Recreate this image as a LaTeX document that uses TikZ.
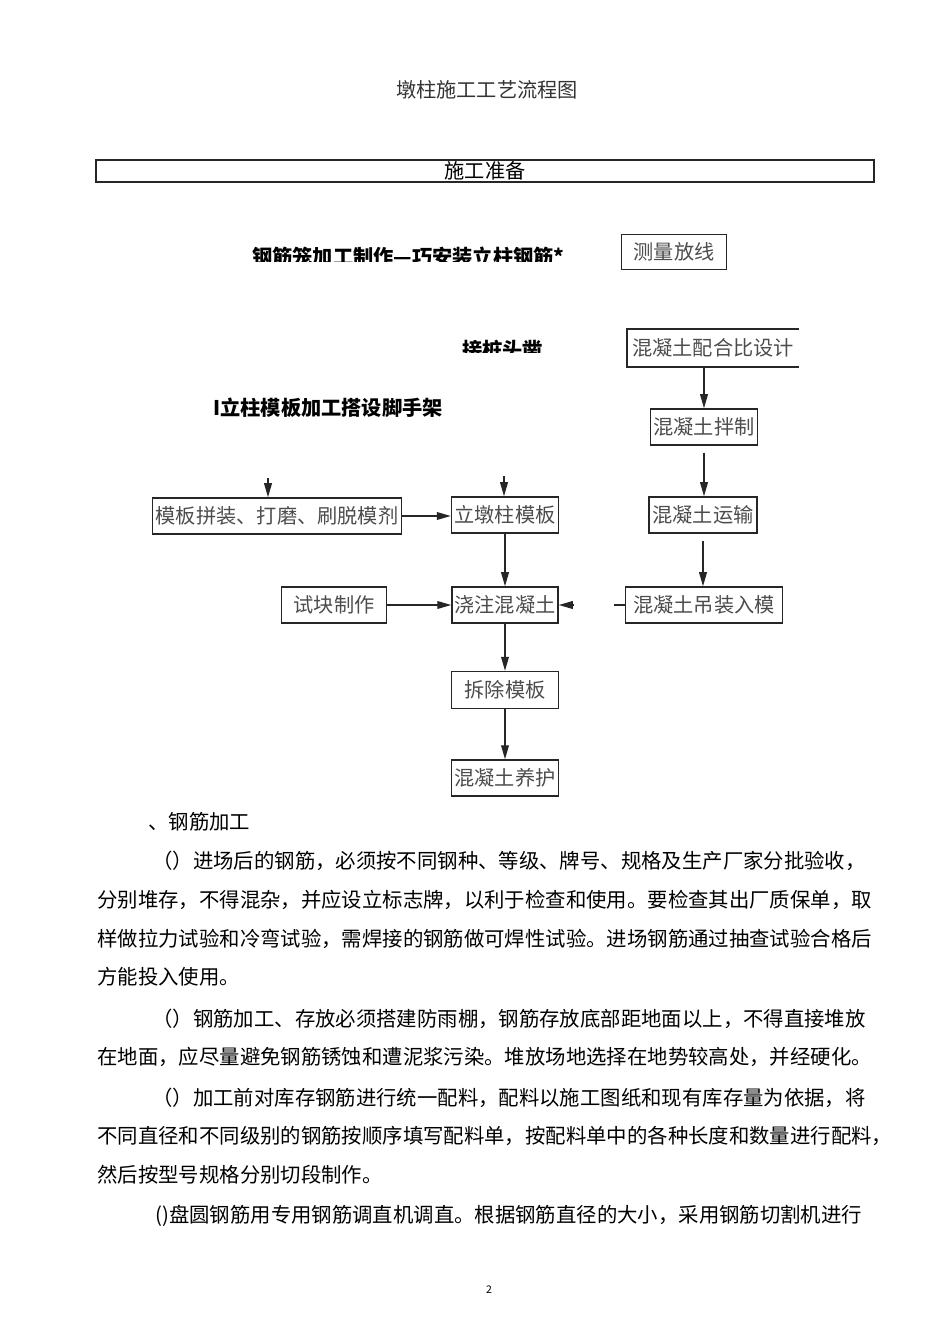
\documentclass[tikz,border=0pt]{standalone}
\usepackage{fontspec}
\setmainfont{Noto Sans CJK SC}
\usetikzlibrary{arrows.meta,positioning}

\newcommand\boxfont{\fontsize{11.5pt}{13pt}\selectfont}
\newcommand\bodyfont{\fontsize{11.6pt}{14pt}\selectfont}

\begin{document}
\begin{tikzpicture}[
  x=0.02cm, y=-0.02cm,
  box/.style={draw=black!85, line width=0.8pt, inner sep=0pt, minimum height=0.72cm,
              font=\boxfont, text=black!70},
  hei/.style={font=\boxfont\bfseries, inner sep=0pt},
  txt/.style={anchor=west, inner sep=0pt, font=\bodyfont},
  arr/.style={-{Triangle[length=8pt,width=4.4pt]}, line width=0.8pt, black!85}
]
\useasboundingbox (0,0) rectangle (950,1344);

\node[font=\boxfont, text=black!80] (title) at (487,90) {墩柱施工工艺流程图};
\node[draw=black!85, line width=0.8pt, minimum width=15.56cm, minimum height=0.44cm,
  inner sep=0pt, font=\boxfont] (prep) at (485,171) {施工准备};

% labels cut off at the bottom
\begin{scope}
  \clip (240,240) rectangle (580,262);
  \node[hei, anchor=west] (cage) at (252,257) {钢筋笼加工制作—巧安装立柱钢筋*};
\end{scope}
\begin{scope}
  \clip (450,330) rectangle (560,353);
  \node[hei, anchor=west] (pilehead) at (462,350) {接桩头凿};
\end{scope}
\node[hei, anchor=west] (formwork) at (213,408) {I立柱模板加工搭设脚手架};

% concrete column
\node[box, minimum width=2.1cm, minimum height=0.7cm] (survey) at (674,252) {测量放线};
\node[inner sep=0pt, minimum width=3.42cm, minimum height=0.74cm, font=\boxfont, text=black!70]
  (mixdesign) at (713,348) {混凝土配合比设计};
\draw[black!85, line width=0.8pt] (mixdesign.north east) -- (mixdesign.north west)
  -- (mixdesign.south west) -- (mixdesign.south east);
\node[box, minimum width=2.14cm] (mixing)    at (704,427) {混凝土拌制};
\node[box, minimum width=2.16cm] (transport) at (703,515) {混凝土运输};
\node[box, minimum width=3.14cm] (hoist)     at (704,605) {混凝土吊装入模};

% formwork column
\node[box, minimum width=4.98cm] (assemble)  at (277,516) {模板拼装、打磨、刷脱模剂};
\node[box, minimum width=2.14cm] (erect)     at (505,515) {立墩柱模板};
\node[box, minimum width=2.1cm]  (testblock) at (334,605) {试块制作};
\node[box, minimum width=2.12cm] (pour)      at (505,605) {浇注混凝土};
\node[box, minimum width=2.14cm, minimum height=0.74cm] (strip) at (505,690) {拆除模板};
\node[box, minimum width=2.14cm] (cure)      at (505,778) {混凝土养护};

\coordinate (asmin)    at (268,478);
\coordinate (erectin)  at (504,476);
\coordinate (hoistout) at (614,605);
\coordinate (pourin)   at (574,605);

\draw[arr] (asmin) -- (asmin |- assemble.north);
\draw[arr] (erectin) -- (erectin |- erect.north);
\draw[arr] (assemble.east) -- (assemble.east -| erect.west);
\draw[arr] (testblock.east) -- (testblock.east -| pour.west);
\draw[arr] (erect) -- (pour);
\draw[arr] (pour) -- (strip);
\draw[arr] (strip) -- (cure);
\draw[arr] (mixing.north |- mixdesign.south) -- (mixing.north);
\draw[arr, shorten <=0.14cm] (mixing.south) -- (mixing.south |- transport.north);
\draw[arr, shorten <=0.14cm] (transport.south) -- (transport.south |- hoist.north);
\draw[black!85, line width=0.8pt] (hoist.west) -- (hoistout);
\draw[arr] (pourin) -- (pour.east);

% text below the chart
\node[txt] (sec) at (148,822) {、钢筋加工};
\node[txt] (p1a) at (152,861) {（）进场后的钢筋，必须按不同钢种、等级、牌号、规格及生产厂家分批验收，};
\node[txt] (p1b) at (97,900) {分别堆存，不得混杂，并应设立标志牌，以利于检查和使用。要检查其出厂质保单，取};
\node[txt] (p1c) at (97,939) {样做拉力试验和冷弯试验，需焊接的钢筋做可焊性试验。进场钢筋通过抽查试验合格后};
\node[txt] (p1d) at (97,977) {方能投入使用。};
\node[txt] (p2a) at (152,1019) {（）钢筋加工、存放必须搭建防雨棚，钢筋存放底部距地面以上，不得直接堆放};
\node[txt] (p2b) at (97,1057) {在地面，应尽量避免钢筋锈蚀和遭泥浆污染。堆放场地选择在地势较高处，并经硬化。};
\node[txt] (p3a) at (152,1098) {（）加工前对库存钢筋进行统一配料，配料以施工图纸和现有库存量为依据，将};
\node[txt] (p3b) at (97,1136) {不同直径和不同级别的钢筋按顺序填写配料单，按配料单中的各种长度和数量进行配料，};
\node[txt] (p3c) at (97,1175) {然后按型号规格分别切段制作。};
\node[txt] (p4a) at (155,1216) {()盘圆钢筋用专用钢筋调直机调直。根据钢筋直径的大小，采用钢筋切割机进行};
\node[font=\fontsize{6pt}{7pt}\selectfont] (pageno) at (489,1290) {2};

\end{tikzpicture}
\end{document}
